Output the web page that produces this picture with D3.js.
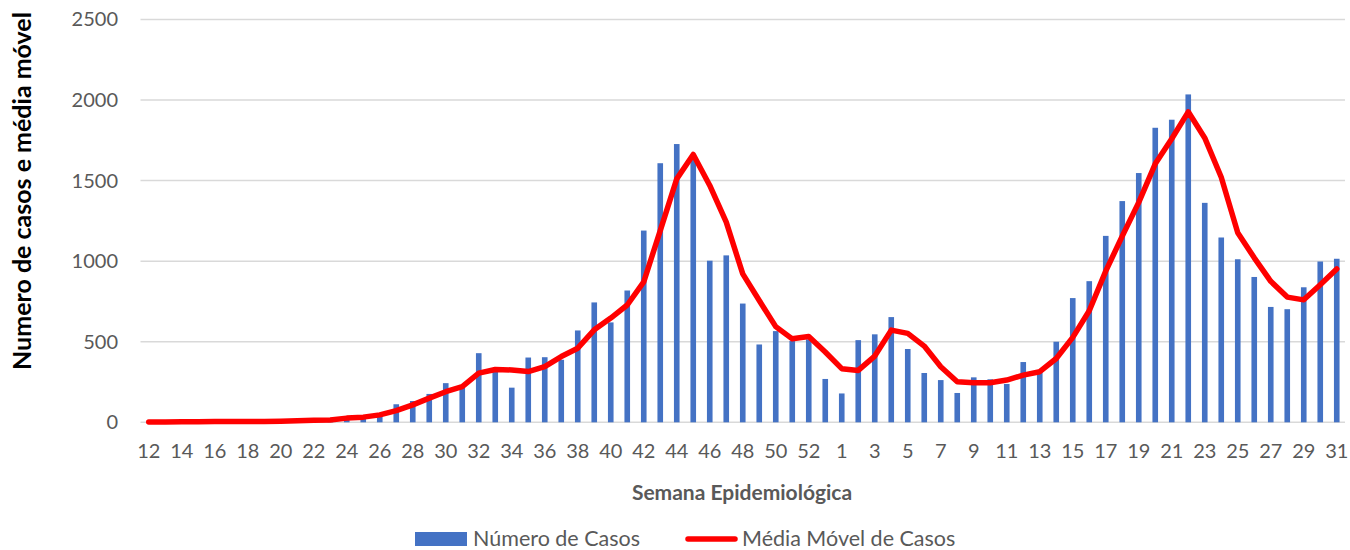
<!DOCTYPE html>
<html>
<head>
<meta charset="utf-8">
<script src="https://cdn.jsdelivr.net/npm/d3@7"></script>
<style>
  body { margin: 0; background: #fff; }
  svg { font-family: Lato, "Open Sans", sans-serif; }
</style>
</head>
<body>
<svg width="1350" height="550"></svg>
<script>
// semanas epidemiologicas (2020: 12-53, 2021: 1-31)
const semanas = [12,13,14,15,16,17,18,19,20,21,22,23,24,25,26,27,28,29,30,31,32,33,34,35,36,37,38,39,40,41,42,43,44,45,46,47,48,49,50,51,52,53,
  1,2,3,4,5,6,7,8,9,10,11,12,13,14,15,16,17,18,19,20,21,22,23,24,25,26,27,28,29,30,31];

const casos = [2,2,3,4,5,5,4,5,8,10,14,12,25,30,45,112,132,176,243,225,429,330,215,402,404,388,570,744,620,818,1190,1608,1727,1650,1003,1036,737,483,566,505,515,269,179,510,546,653,455,306,262,182,279,267,238,374,315,
  500,771,876,1157,1373,1547,1828,1878,2035,1362,1147,1012,902,716,702,838,998,1015];

const mediaMovel = [2,2,3,4,5,5,5,5,7,9,12,14,26,32,46,72,108,150,190,221,305,328,325,315,346,408,460,574,647,728,872,1190,1511,1662,1470,1242,921,756,594,518,533,436,333,322,411,572,552,473,345,252,246,246,262,293,314,
  396,527,692,938,1156,1365,1604,1760,1927,1765,1521,1177,1021,875,777,760,854,952];

const yTicks = [0, 500, 1000, 1500, 2000, 2500];

const svg = d3.select("svg");
const plotLeft = 140.5, plotRight = 1345, plotTop = 19.5, plotBottom = 422.3;
const grey = "#595959";

const idx = semanas.map((d, i) => i);

const x = d3.scaleBand().domain(idx).range([plotLeft, plotRight]).paddingInner(0.66).paddingOuter(0.33);
const y = d3.scaleLinear().domain([0, 2500]).range([plotBottom, plotTop]);

// gridlines
svg.append("g")
  .selectAll("line")
  .data(yTicks)
  .enter()
  .append("line")
  .attr("x1", plotLeft)
  .attr("x2", plotRight)
  .attr("y1", d => y(d))
  .attr("y2", d => y(d))
  .attr("stroke", "#d9d9d9")
  .attr("stroke-width", 1.5);

// eixo y
const yAxis = svg.append("g")
  .attr("transform", "translate(" + 118 + ",0)")
  .call(d3.axisLeft(y).tickValues(yTicks).tickFormat(d3.format("d")).tickSize(0).tickPadding(0));
yAxis.select(".domain").remove();
yAxis.selectAll("text")
  .attr("fill", grey)
  .attr("font-size", "20px")
  .attr("font-family", "Lato, sans-serif");

// eixo x
const xAxis = svg.append("g")
  .attr("transform", "translate(0," + plotBottom + ")")
  .call(d3.axisBottom(x)
    .tickValues(idx.filter(i => i % 2 === 0))
    .tickFormat(i => semanas[i])
    .tickSize(0)
    .tickPadding(22));
xAxis.select(".domain").remove();
xAxis.selectAll("text")
  .attr("fill", grey)
  .attr("font-size", "20px")
  .attr("font-family", "Lato, sans-serif");

// barras
svg.append("g")
  .selectAll("rect")
  .data(casos)
  .enter()
  .append("rect")
  .attr("x", (d, i) => x(i))
  .attr("y", d => y(d))
  .attr("width", x.bandwidth())
  .attr("height", d => plotBottom - y(d))
  .attr("fill", "#4472C4");

// media movel
const line = d3.line()
  .x((d, i) => x(i) + x.bandwidth() / 2)
  .y(d => y(d));

svg.append("path")
  .datum(mediaMovel)
  .attr("d", line)
  .attr("fill", "none")
  .attr("stroke", "#FF0000")
  .attr("stroke-width", 5.5)
  .attr("stroke-linejoin", "round")
  .attr("stroke-linecap", "round");

// titulos
svg.append("text")
  .attr("transform", "translate(31,191) rotate(-90)")
  .attr("text-anchor", "middle")
  .attr("font-size", "25px")
  .attr("font-weight", "bold")
  .attr("fill", "#000")
  .text("Numero de casos e média móvel");

svg.append("text")
  .attr("x", 742)
  .attr("y", 500)
  .attr("text-anchor", "middle")
  .attr("font-size", "21px")
  .attr("font-weight", "bold")
  .attr("fill", grey)
  .text("Semana Epidemiológica");

// legenda
const leg = svg.append("g");
leg.append("rect")
  .attr("x", 415).attr("y", 532)
  .attr("width", 52).attr("height", 14)
  .attr("fill", "#4472C4");
leg.append("text")
  .attr("x", 473).attr("y", 546)
  .attr("font-size", "21.5px")
  .attr("fill", grey)
  .text("Número de Casos");
leg.append("line")
  .attr("x1", 688).attr("x2", 735)
  .attr("y1", 539).attr("y2", 539)
  .attr("stroke", "#FF0000")
  .attr("stroke-width", 5.5)
  .attr("stroke-linecap", "round");
leg.append("text")
  .attr("x", 742).attr("y", 546)
  .attr("font-size", "21.5px")
  .attr("fill", grey)
  .text("Média Móvel de Casos");
</script>
</body>
</html>
